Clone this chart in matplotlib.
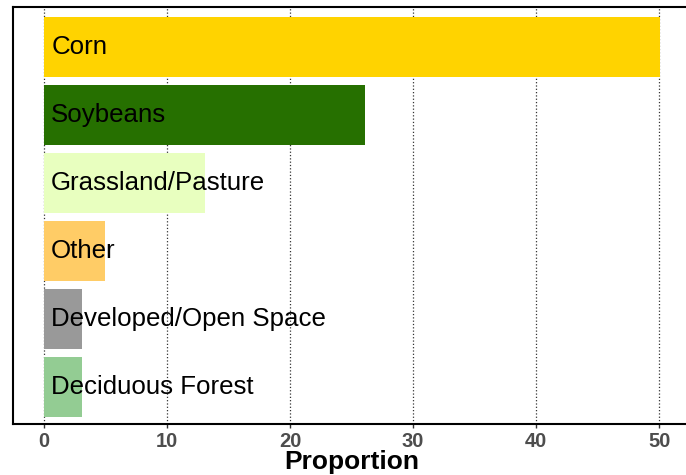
import matplotlib.pyplot as plt

categories = ['Corn', 'Soybeans', 'Grassland/Pasture', 'Other',
              'Developed/Open Space', 'Deciduous Forest']
proportions = [50.1, 26.1, 13.1, 5.0, 3.1, 3.1]
colors = ['#FFD300', '#267000', '#E8FFBF', '#FFCC66', '#999999', '#93CC93']
xticks = [0, 10, 20, 30, 40, 50]

plt.rcParams['font.family'] = ['Liberation Sans', 'DejaVu Sans']

fig = plt.figure(figsize=(6.86, 4.75), dpi=100)
W, H = 686, 475
ax = fig.add_axes([13 / W, (H - 424) / H, (690 - 13) / W, (424 - 7) / H])

ypos = list(range(len(categories)))[::-1]
ax.barh(ypos, proportions, height=0.88, color=colors, zorder=2)
for y, name in zip(ypos, categories):
    ax.text(0.6, y, name, va='center', ha='left', fontsize=18.6, color='black', zorder=3)

ax.set_xlim(-2.5, 52.5)
ax.set_ylim(-0.55, 5.59)
ax.set_xticks(xticks)
ax.set_xticklabels([str(t) for t in xticks], fontsize=14.5, fontweight='bold', color='#4D4D4D')
ax.set_yticks([])
ax.tick_params(axis='x', length=3, width=1, color='#333333', pad=3)
ax.xaxis.grid(True, linestyle=':', color='#333333', linewidth=0.9, zorder=0)
ax.set_axisbelow(True)
for s in ax.spines.values():
    s.set_linewidth(1.5)
    s.set_color('black')
ax.set_xlabel('Proportion', fontsize=19, fontweight='bold', labelpad=-1)

plt.savefig('out.png', dpi=100)
